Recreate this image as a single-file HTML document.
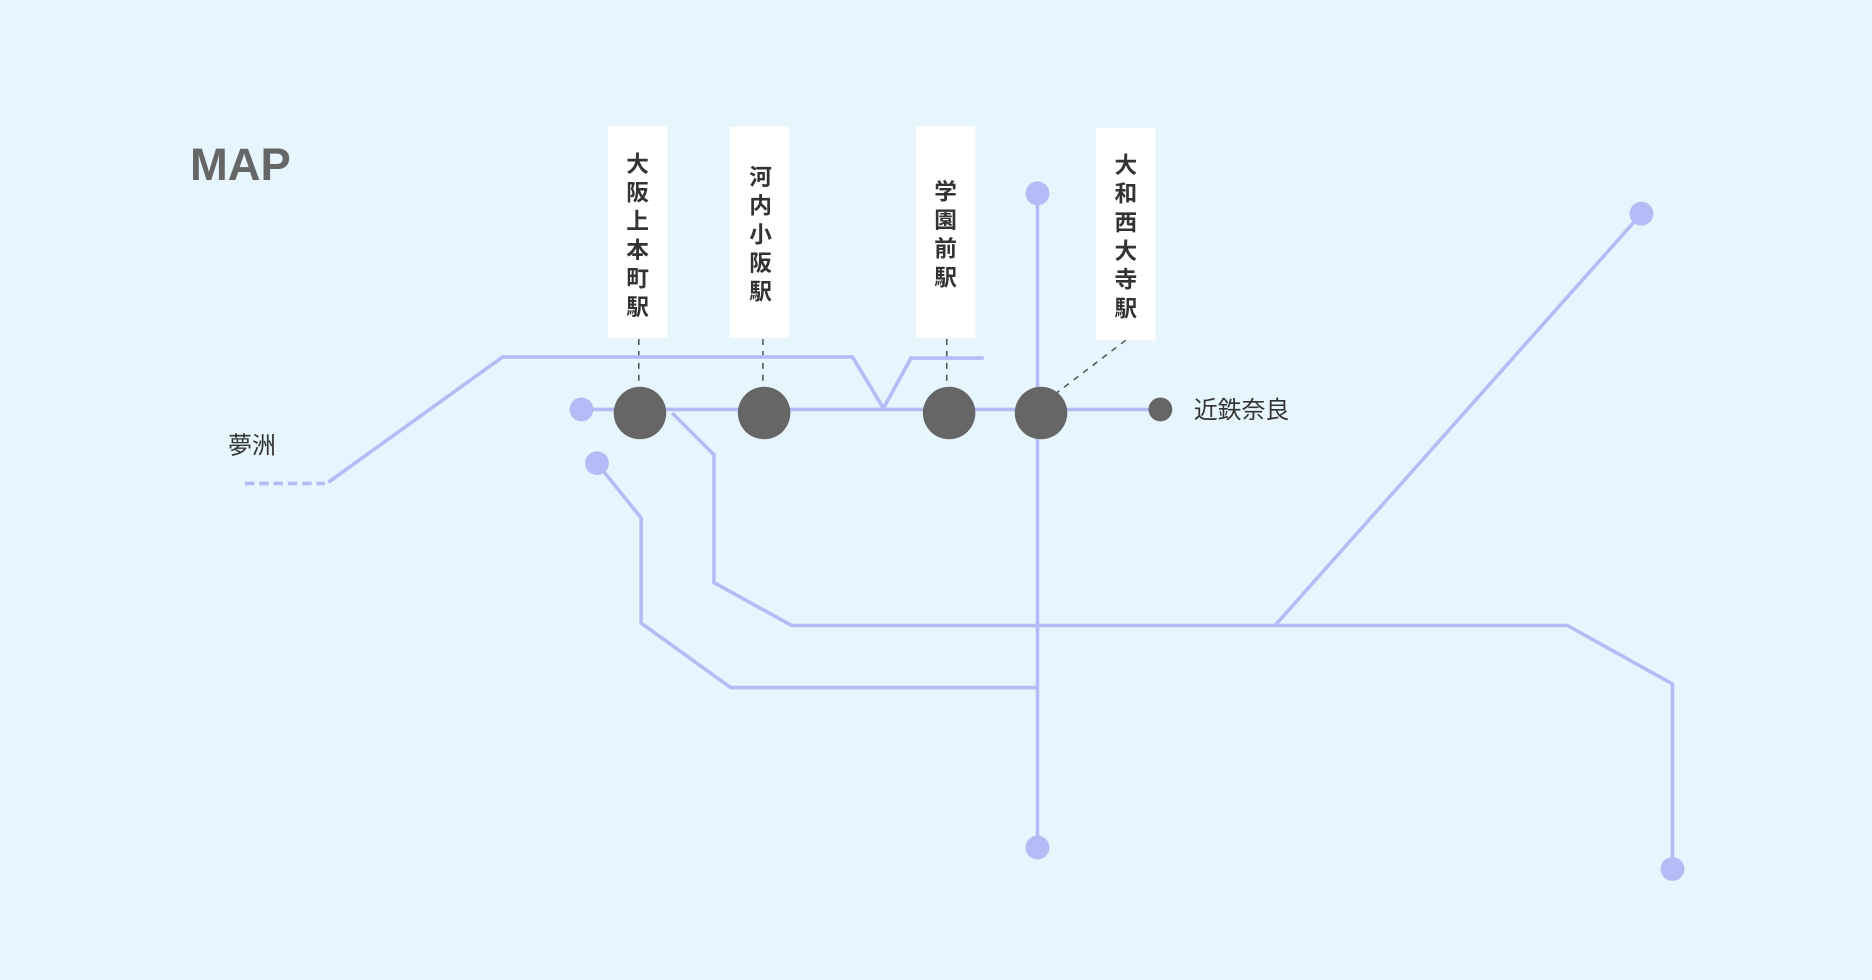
<!DOCTYPE html>
<html><head><meta charset="utf-8"><style>
html,body{margin:0;padding:0;background:#e7f5fe;}
svg{display:block}
</style></head><body>
<svg width="1872" height="980" viewBox="0 0 1568 821" xmlns="http://www.w3.org/2000/svg">
<rect width="1568" height="821" fill="#e7f5fe"/>
<text x="159" y="151" font-family="Liberation Sans, sans-serif" font-weight="bold" font-size="38" fill="#666">MAP</text>
<g fill="#fff">
<rect x="509" y="106" width="50" height="177"/>
<rect x="611" y="106" width="50" height="177"/>
<rect x="767" y="106" width="50" height="177"/>
<rect x="918" y="107" width="50" height="178"/>
</g>
<g font-family="Liberation Sans, Noto Sans CJK JP, sans-serif" font-weight="bold" font-size="19" fill="#333" text-anchor="middle">
<text x="534" y="144">大</text><text x="534" y="168">阪</text><text x="534" y="192">上</text><text x="534" y="216">本</text><text x="534" y="240">町</text><text x="534" y="264">駅</text>
<text x="637" y="155">河</text><text x="637" y="179">内</text><text x="637" y="203">小</text><text x="637" y="227">阪</text><text x="637" y="251">駅</text>
<text x="792" y="167">学</text><text x="792" y="191">園</text><text x="792" y="215">前</text><text x="792" y="239">駅</text>
<text x="943" y="145">大</text><text x="943" y="169">和</text><text x="943" y="193">西</text><text x="943" y="217">大</text><text x="943" y="241">寺</text><text x="943" y="265">駅</text>
</g>
<g stroke="#555" stroke-width="1.3" stroke-dasharray="5,5" fill="none">
<line x1="535" y1="284" x2="535" y2="322"/>
<line x1="639" y1="284" x2="639" y2="322"/>
<line x1="793" y1="284" x2="793" y2="322"/>
<line x1="943" y1="285" x2="884" y2="330"/>
</g>
<g stroke="#b6bbf7" stroke-width="3" fill="none" stroke-linejoin="miter">
<polyline points="275,404 421,299 714,299 740,342 763,300 824,300"/>
<line x1="205" y1="405" x2="272" y2="405" stroke-dasharray="8,4"/>
<line x1="487" y1="343" x2="972" y2="343"/>
<polyline points="563,346 598,381 598,488 663,524 1313,524 1401,573 1401,728"/>
<polyline points="500,388 537,434 537,522 612,576 868,576"/>
<line x1="869" y1="162" x2="869" y2="710"/>
<line x1="1068" y1="524" x2="1375" y2="179"/>
</g>
<g fill="#b6bbf7">
<circle cx="487" cy="343" r="10"/>
<circle cx="500" cy="388" r="10"/>
<circle cx="869" cy="162" r="10"/>
<circle cx="869" cy="710" r="10"/>
<circle cx="1375" cy="179" r="10"/>
<circle cx="1401" cy="728" r="10"/>
</g>
<g fill="#666">
<circle cx="536" cy="346" r="22"/>
<circle cx="640" cy="346" r="22"/>
<circle cx="795" cy="346" r="22"/>
<circle cx="872" cy="346" r="22"/>
<circle cx="972" cy="343" r="10"/>
</g>
<g font-family="Liberation Sans, Noto Sans CJK JP, sans-serif" font-size="20" fill="#333">
<text x="191" y="380">夢洲</text>
<text x="1000" y="350">近鉄奈良</text>
</g>
</svg>
</body></html>
